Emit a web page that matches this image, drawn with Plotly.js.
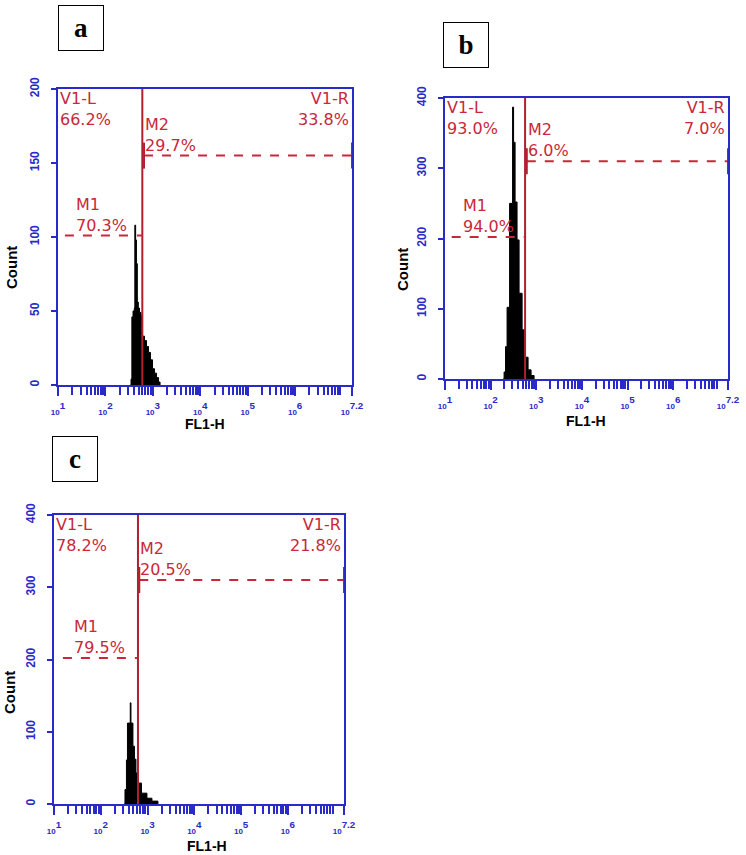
<!DOCTYPE html>
<html><head><meta charset="utf-8">
<script src="https://cdn.plot.ly/plotly-3.0.1.min.js"></script>
<style>html,body{margin:0;padding:0;background:#fff;}#chart{width:746px;height:855px;}</style>
</head><body><div id="chart"></div>
<script>
// ---------- data (FL1-H channel value, event count) ----------
const fl1A   = [338, 347, 361, 382, 407, 417, 434, 451, 471, 494, 524, 564, 606, 668, 736, 811, 894, 985, 1086, 1197, 1319, 1419];
const countA = [0,   4,   46,  50,  52,  108, 98,  82,  56,  52,  49,  47,  33,  30,  26,  22,  17,  11,  8,    5,    2,    0];
const fl1B   = [187, 197, 212, 229, 260, 302, 318, 343, 379, 420, 489, 568, 661, 769, 895];
const countB = [0,   10,  46,  102, 250, 387, 337, 252, 198, 122, 70,  31,  13,  5,   0];
const fl1C   = [313, 329, 354, 372, 427, 442, 487, 525, 565, 624, 741, 970, 1242, 1667];
const countC = [0,   20,  61,  112, 140, 112, 80,  62,  43,  29,  15,  8,   4,    0];

// marker / gate settings
const panelNames = ['a', 'b', 'c'];
const v1Split = [600, 568, 624];
const m1Start = [14, 14, 15.5];
const m2Start = [652, 619, 665];
const m1Level = [101, 202, 202];
const m2Level = [155, 310, 310];
const v1LPct  = ['66.2%', '93.0%', '78.2%'];
const v1RPct  = ['33.8%', '7.0%', '21.8%'];
const m1Pct   = ['70.3%', '94.0%', '79.5%'];
const m2Pct   = ['29.7%', '6.0%', '20.5%'];
const yMax  = [200, 400, 400];
const yStep = [50, 100, 100];
const xExp = ['1', '2', '3', '4', '5', '6', '7.2'];
const xMaxLog = 7.2;

// ---------- layout helpers ----------
const W = 746, H = 855;
const boxes = [[58, 352, 89, 385], [445, 728, 98, 379], [54, 344, 515, 804]]; // l, r, t, b px
const countPos = [[12, 268], [402, 270], [9, 693]];
const flPos = [[205, 424], [586, 421], [207, 846]];
const labelPos = [[80.5, 28], [466, 45], [74.5, 459]];
const BLUE = '#2a2ac8', RED = '#c8283a', DRED = '#b02030';

const xs = [fl1A, fl1B, fl1C], ys = [countA, countB, countC];
const traces = [], shapes = [], annotations = [];
const layout = {
  width: W, height: H, margin: {l: 0, r: 0, t: 0, b: 0},
  paper_bgcolor: '#fff', plot_bgcolor: '#fff', showlegend: false,
  font: {family: 'Liberation Sans, Arial, sans-serif'}
};
const xTickVals = xExp.map(e => Math.pow(10, parseFloat(e)));
const xTickText = xExp.map(e => '<span style="font-size:8px">10</span><sup>' + e + '</sup>');
const minorVals = [];
for (let k = 1; k <= 7; k++) for (let m = 2; m <= 9; m++) { const v = m * Math.pow(10, k); if (Math.log10(v) < xMaxLog) minorVals.push(v); }

for (let i = 0; i < 3; i++) {
  const sx = i === 0 ? '' : String(i + 1);
  const xa = 'x' + sx, ya = 'y' + sx;
  const [l, r, t, b] = boxes[i];
  layout['xaxis' + sx] = {
    type: 'log', range: [1, xMaxLog], domain: [l / W, r / W], anchor: ya,
    showgrid: false, zeroline: false, showline: true, mirror: true, linecolor: BLUE, linewidth: 2,
    ticks: 'outside', ticklen: 9, tickwidth: 2, tickcolor: BLUE,
    tickvals: xTickVals, ticktext: xTickText, ticklabelstandoff: 2,
    tickfont: {color: BLUE, size: 14, weight: 'bold', family: 'Liberation Sans, Arial'},
    minor: {tickvals: minorVals, ticks: 'outside', ticklen: 8, tickwidth: 2, tickcolor: BLUE, showgrid: false},
    fixedrange: true
  };
  layout['yaxis' + sx] = {
    range: [0, yMax[i]], domain: [1 - b / H, 1 - t / H], anchor: xa,
    showgrid: false, zeroline: false, showline: true, mirror: true, linecolor: BLUE, linewidth: 2,
    ticks: 'outside', ticklen: 5, tickwidth: 2, tickcolor: BLUE, dtick: yStep[i], tick0: 0,
    tickangle: -90, ticklabelstandoff: 7,
    tickfont: {color: BLUE, size: 12, weight: 'bold', family: 'Liberation Sans, Arial'},
    fixedrange: true
  };
  traces.push({
    type: 'scatter', mode: 'lines', x: xs[i], y: ys[i], xaxis: xa, yaxis: ya,
    line: {shape: 'hv', color: '#000', width: 1}, fill: 'tozeroy', fillcolor: '#000', hoverinfo: 'skip'
  });
  const xEnd = Math.pow(10, xMaxLog);
  shapes.push({type: 'line', xref: xa, yref: ya + ' domain', x0: v1Split[i], x1: v1Split[i], y0: 0, y1: 1,
    line: {color: DRED, width: 2}});
  shapes.push({type: 'line', xref: xa, yref: ya, x0: m1Start[i], x1: v1Split[i], y0: m1Level[i], y1: m1Level[i],
    line: {color: RED, width: 2, dash: 'dash'}});
  shapes.push({type: 'line', xref: xa, yref: ya, x0: m2Start[i], x1: xEnd, y0: m2Level[i], y1: m2Level[i],
    line: {color: RED, width: 2, dash: 'dash'}});
  [m2Start[i], xEnd].forEach(xv => shapes.push({type: 'line', xref: xa, yref: ya, ysizemode: 'pixel', yanchor: m2Level[i],
    x0: xv, x1: xv, y0: -13, y1: 13, line: {color: DRED, width: 2}}));

  const tf = {family: 'DejaVu Sans, Verdana, sans-serif', size: 16, color: RED};
  const lbl = (text, x, xref, y, yref, xanchor, align, xshift, yshift) => annotations.push({
    text, x, xref, y, yref, xanchor, align, yanchor: 'middle', xshift, yshift, showarrow: false, font: tf, borderpad: 0
  });
  lbl('V1-L<br>' + v1LPct[i], 0, xa + ' domain', 1, ya + ' domain', 'left', 'left', 1, -20);
  lbl('V1-R<br>' + v1RPct[i], 1, xa + ' domain', 1, ya + ' domain', 'right', 'right', -2, -20);
  lbl('M1<br>' + m1Pct[i], Math.log10(m1Start[i]), xa, m1Level[i], ya, 'left', 'left', 10, 21);
  lbl('M2<br>' + m2Pct[i], Math.log10(m2Start[i]), xa, m2Level[i], ya, 'left', 'left', 0, 21);

  annotations.push({text: '<b>Count</b>', x: countPos[i][0] / W, y: 1 - countPos[i][1] / H, xref: 'paper', yref: 'paper',
    showarrow: false, textangle: -90, font: {size: 15, color: '#000', family: 'Liberation Sans, Arial'}, xanchor: 'center', yanchor: 'middle'});
  annotations.push({text: '<b>FL1-H</b>', x: flPos[i][0] / W, y: 1 - flPos[i][1] / H, xref: 'paper', yref: 'paper',
    showarrow: false, font: {size: 14, color: '#000', family: 'Liberation Sans, Arial'}, xanchor: 'center', yanchor: 'middle', borderpad: 0});
  annotations.push({text: '<b>' + panelNames[i] + '</b>', x: labelPos[i][0] / W, y: 1 - labelPos[i][1] / H, xref: 'paper', yref: 'paper',
    showarrow: false, font: {size: 27, color: '#000', family: 'Liberation Serif, Times New Roman, serif'},
    xanchor: 'center', yanchor: 'middle', width: 42, height: 42, bordercolor: '#000', borderwidth: 1, borderpad: 1, bgcolor: '#fff'});
}
layout.shapes = shapes;
layout.annotations = annotations;
Plotly.newPlot('chart', traces, layout, {staticPlot: true, displayModeBar: false});
</script></body></html>
